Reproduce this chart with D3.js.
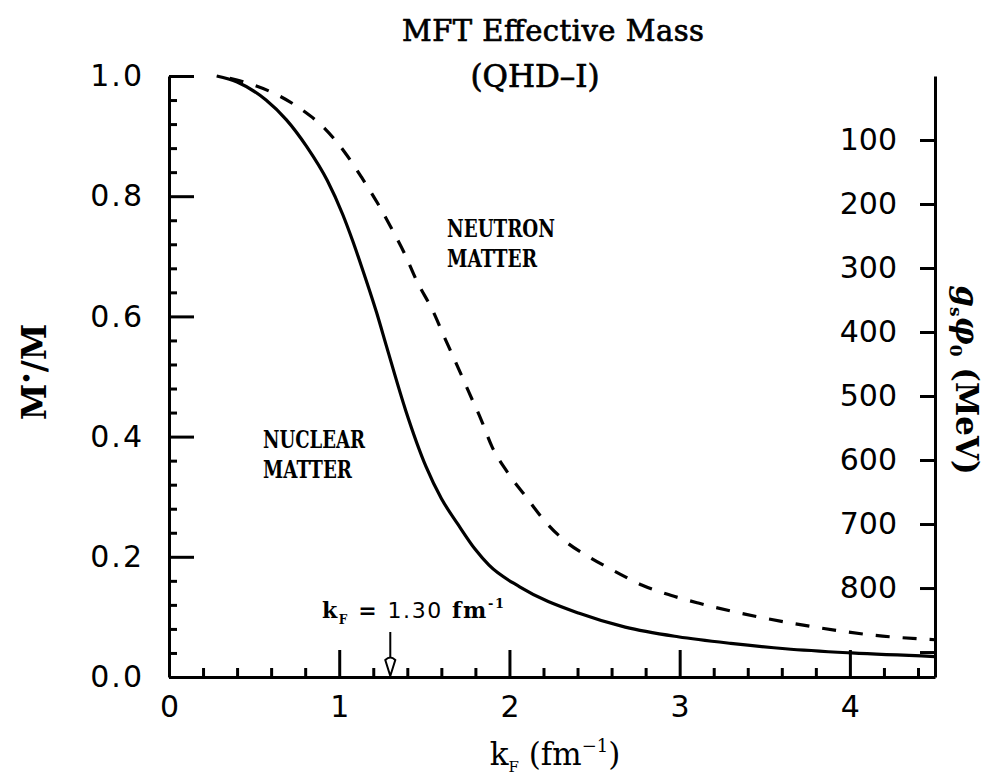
<!DOCTYPE html>
<html>
<head>
<meta charset="utf-8">
<script src="https://cdn.jsdelivr.net/npm/d3@7"></script>
<style>
  html, body { margin: 0; padding: 0; background: #fff; }
  svg { display: block; }
  .tick text { font-family: "DejaVu Sans", sans-serif; font-size: 30px; fill: #000; }
  .ser { font-family: "DejaVu Serif", serif; fill: #000; }
</style>
</head>
<body>
<div id="vis"></div>
<script>
// nuclear matter curve (solid)
const kNuclear = [0.28, 0.40, 0.57, 0.69, 0.81, 0.93, 1.02, 1.08, 1.13, 1.22, 1.28, 1.39, 1.51, 1.60, 1.70, 1.80, 1.88, 2.06, 2.41, 2.68, 2.99, 3.30, 3.62, 4.01, 4.50];
const mNuclear = [1.000, 0.990, 0.960, 0.927, 0.882, 0.826, 0.770, 0.725, 0.684, 0.606, 0.548, 0.444, 0.350, 0.297, 0.253, 0.212, 0.186, 0.150, 0.106, 0.083, 0.067, 0.056, 0.047, 0.040, 0.034];

// neutron matter curve (dashed)
const kNeutron = [0.30, 0.475, 0.64, 0.785, 0.914, 1.03, 1.13, 1.224, 1.306, 1.383, 1.459, 1.547, 1.617, 1.687, 1.763, 1.834, 1.898, 1.99, 2.097, 2.203, 2.332, 2.466, 2.625, 2.777, 2.947, 3.11, 3.462, 3.796, 4.124, 4.50];
const mNeutron = [1.000, 0.987, 0.968, 0.943, 0.913, 0.874, 0.832, 0.789, 0.747, 0.705, 0.657, 0.611, 0.566, 0.522, 0.473, 0.428, 0.383, 0.340, 0.300, 0.261, 0.225, 0.200, 0.175, 0.153, 0.136, 0.123, 0.100, 0.083, 0.070, 0.062];

const xTicks = [0, 1, 2, 3, 4];
const yTicks = [0, 0.2, 0.4, 0.6, 0.8, 1.0];
const mevTicks = [100, 200, 300, 400, 500, 600, 700, 800, 900];
const kFermi = 1.30;
const nucleonMass = 939;

const W = 990, H = 778;
const margin = { top: 76, right: 55, bottom: 101, left: 169 };

const svg = d3.select("#vis").append("svg")
    .attr("width", W)
    .attr("height", H);

const x = d3.scaleLinear().domain([0, 4.5]).range([margin.left, W - margin.right]);
const y = d3.scaleLinear().domain([0, 1]).range([H - margin.bottom, margin.top]);
// g_s phi_0 = M - M*, so 0 MeV sits at M*/M = 1
const yMev = d3.scaleLinear().domain([0, nucleonMass]).range([y(1), y(0)]);

function styleAxis(g) {
    g.selectAll("path, line").attr("stroke", "#000").attr("stroke-width", 3);
}

// minor ticks
const yMinor = d3.range(0, 1.001, 0.04).filter(v => Math.abs(v * 5 - Math.round(v * 5)) > 1e-6);
const xMinor = d3.range(0, 4.501, 0.2).filter(v => Math.abs(v - Math.round(v)) > 1e-6);

svg.append("g")
    .attr("transform", `translate(${x(0)},0)`)
    .call(d3.axisLeft(y).tickValues(yMinor).tickSize(-8).tickFormat(""))
    .call(g => g.select(".domain").remove())
    .call(styleAxis);

svg.append("g")
    .attr("transform", `translate(0,${y(0)})`)
    .call(d3.axisBottom(x).tickValues(xMinor).tickSize(-9).tickFormat(""))
    .call(g => g.select(".domain").remove())
    .call(styleAxis);

// major axes
svg.append("g")
    .attr("transform", `translate(${x(0)},0)`)
    .call(d3.axisLeft(y).tickValues(yTicks).tickSize(-25).tickSizeOuter(0).tickPadding(25).tickFormat(d3.format(".1f")))
    .call(styleAxis)
    .call(g => g.selectAll("text").attr("letter-spacing", 2));

svg.append("g")
    .attr("transform", `translate(0,${y(0)})`)
    .call(d3.axisBottom(x).tickValues(xTicks).tickSize(-27).tickSizeOuter(0).tickPadding(19).tickFormat(d3.format("d")))
    .call(styleAxis);

svg.append("g")
    .attr("transform", `translate(${x(4.5)},0)`)
    .call(d3.axisRight(yMev).tickValues(mevTicks).tickSize(-15).tickSizeOuter(0).tickPadding(38)
        .tickFormat(d => d < 900 ? d : ""))
    .call(styleAxis)
    .call(g => g.selectAll("text").attr("text-anchor", "end").attr("x", -38));

// curves
const line = d3.line()
    .x(d => x(d[0]))
    .y(d => y(d[1]))
    .curve(d3.curveMonotoneX);

svg.append("path")
    .datum(d3.zip(kNuclear, mNuclear))
    .attr("d", line)
    .attr("fill", "none")
    .attr("stroke", "#000")
    .attr("stroke-width", 3.2)
    .attr("stroke-linejoin", "round");

svg.append("path")
    .datum(d3.zip(kNeutron, mNeutron))
    .attr("d", line)
    .attr("fill", "none")
    .attr("stroke", "#000")
    .attr("stroke-width", 3.2)
    .attr("stroke-dasharray", "14,13")
    .attr("stroke-dashoffset", -10);

// k_F arrow
const ax = x(kFermi), ay = y(0);
svg.append("line")
    .attr("x1", ax).attr("x2", ax)
    .attr("y1", ay - 45).attr("y2", ay - 17)
    .attr("stroke", "#000").attr("stroke-width", 2);
svg.append("path")
    .attr("d", `M${ax - 5},${ay - 17} Q${ax},${ay - 22} ${ax + 5},${ay - 17} L${ax},${ay - 1} Z`)
    .attr("fill", "#fff").attr("stroke", "#000").attr("stroke-width", 2);

// title
svg.append("text").attr("class", "ser")
    .attr("x", 553).attr("y", 41)
    .attr("text-anchor", "middle")
    .attr("font-size", 29)
    .attr("stroke", "#000").attr("stroke-width", 0.7)
    .attr("textLength", 302)
    .text("MFT Effective Mass");
svg.append("text").attr("class", "ser")
    .attr("x", 535).attr("y", 87)
    .attr("text-anchor", "middle")
    .attr("font-size", 31)
    .attr("stroke", "#000").attr("stroke-width", 0.7)
    .text("(QHD\u2013I)");

// axis titles
const yl = svg.append("text").attr("class", "ser")
    .attr("transform", "translate(46,372) rotate(-90)")
    .attr("text-anchor", "middle")
    .attr("font-size", 33)
    .attr("font-weight", "bold");
yl.append("tspan").text("M");
yl.append("tspan").attr("font-size", 18).attr("dy", -13).text("\u2022");
yl.append("tspan").attr("dy", 13).text("/M");

const yr = svg.append("text").attr("class", "ser")
    .attr("transform", "translate(956,380) rotate(90)")
    .attr("text-anchor", "middle")
    .attr("font-size", 31)
    .attr("font-weight", "bold");
yr.append("tspan").attr("font-style", "italic").text("g");
yr.append("tspan").attr("font-size", 17).attr("dy", 6).text("s");
yr.append("tspan").attr("dy", -6).attr("font-style", "italic").text("\u03c6");
yr.append("tspan").attr("font-size", 17).attr("dy", 6).text("0");
yr.append("tspan").attr("dy", -6).text(" (MeV)");

const xl = svg.append("text").attr("class", "ser")
    .attr("x", 555).attr("y", 765)
    .attr("text-anchor", "middle")
    .attr("font-size", 31);
xl.append("tspan").text("k");
xl.append("tspan").attr("font-size", 15).attr("dy", 7).text("F");
xl.append("tspan").attr("dy", -7).text(" (fm");
xl.append("tspan").attr("font-size", 18).attr("dy", -13).text("\u22121");
xl.append("tspan").attr("dy", 13).text(")");

// curve labels
function label(lines, x0, y0, widths) {
    lines.forEach((t, i) => {
        svg.append("text").attr("class", "ser")
            .attr("x", x0).attr("y", y0 + i * 30)
            .attr("font-size", 24)
            .attr("font-weight", "bold")
            .attr("textLength", widths[i])
            .attr("lengthAdjust", "spacingAndGlyphs")
            .text(t);
    });
}
label(["NUCLEAR", "MATTER"], 263, 448, [102, 89]);
label(["NEUTRON", "MATTER"], 447, 237, [108, 90]);

// k_F annotation
const kt = svg.append("text").attr("class", "ser")
    .attr("x", 322).attr("y", 618)
    .attr("font-size", 22)
    .attr("font-weight", "bold")
    .attr("textLength", 182)
    .attr("lengthAdjust", "spacing");
kt.append("tspan").text("k");
kt.append("tspan").attr("font-size", 12).attr("dy", 6).text("F");
kt.append("tspan").attr("dy", -6).text(" = ");
kt.append("tspan").attr("font-family", "DejaVu Sans").attr("font-weight", "normal").text("1.30");
kt.append("tspan").text(" fm");
kt.append("tspan").attr("font-size", 13).attr("dy", -10).text("-1");
</script>
</body>
</html>
